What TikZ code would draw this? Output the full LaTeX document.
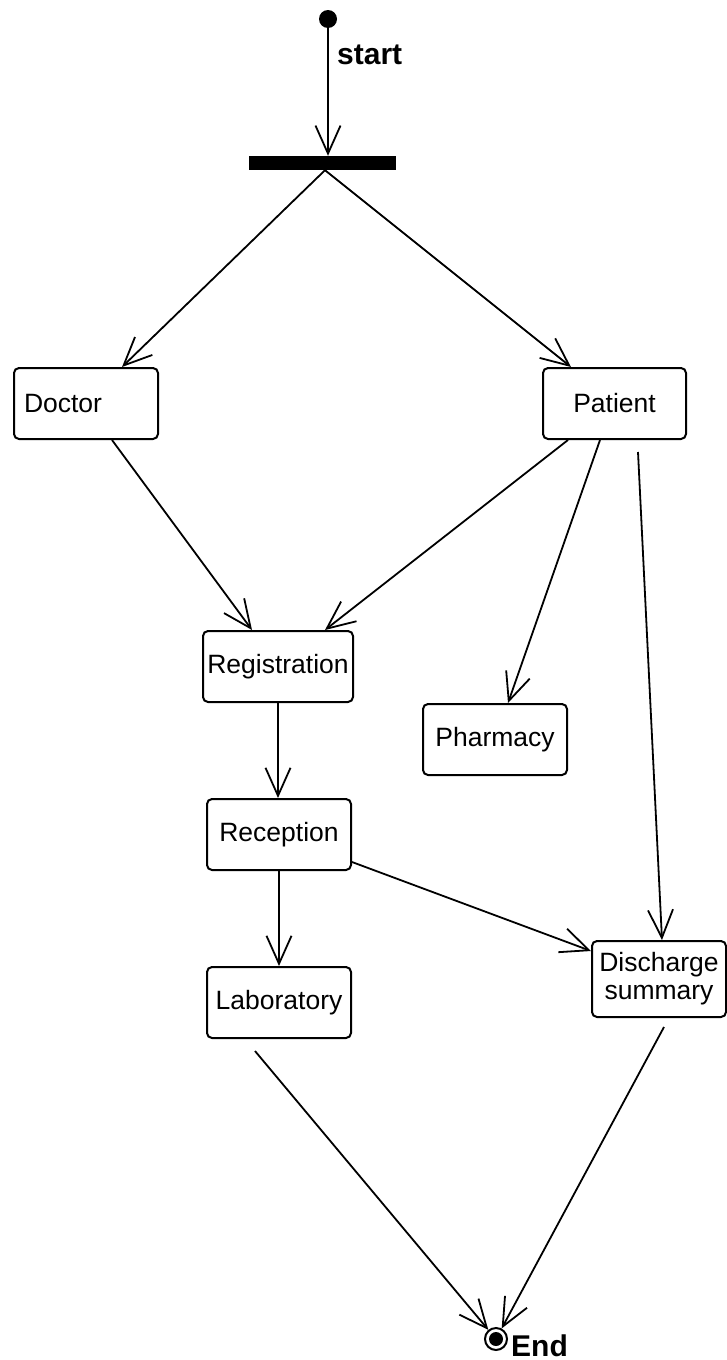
\documentclass[tikz,border=0pt]{standalone}
\usepackage{fontspec}
\setmainfont{Liberation Sans}
\usetikzlibrary{arrows.meta}
\begin{document}
\begin{tikzpicture}[x=1pt,y=-1pt,
  box/.style={draw, line width=2pt, rounded corners=5pt, minimum height=71pt,
    inner sep=0pt, align=center, font=\fontsize{26.5}{28}\selectfont},
  flow/.style={line width=1.8pt, -{Straight Barb[length=28pt,width=25pt,line width=1.8pt]}},
  lbl/.style={font=\fontsize{30}{32}\selectfont\bfseries, inner sep=0pt}]
\useasboundingbox (0,0) rectangle (727,1360);
% initial, bar
\node[circle, fill=black, minimum size=18pt, inner sep=0pt] (start) at (328,19) {};
\node[lbl, anchor=base west] (startlbl) at (337,64) {start};
\node[fill=black, minimum width=147pt, minimum height=14pt, inner sep=0pt] (bar) at (322.5,163) {};
% states
\node[box, minimum width=144pt, text width=124pt, inner xsep=10pt, align=left] (doc) at (86,403.5) {Doctor};
\node[box, minimum width=143pt] (pat) at (614.5,403.5) {Patient};
\node[box, minimum width=150pt] (reg) at (278,666.5) {Registration};
\node[box, minimum width=144pt] (pha) at (495,739.5) {Pharmacy};
\node[box, minimum width=144pt] (rec) at (279,834.5) {Reception};
\node[box, minimum width=144pt] (lab) at (279,1002.5) {Laboratory};
\node[box, minimum width=134pt, minimum height=76pt] (dis) at (659,979) {Discharge\\summary};
% final
\node[circle, draw, line width=2pt, fill=white, minimum size=22pt, inner sep=0pt] (end) at (496,1339) {};
\fill (end.center) circle (7pt);
\node[lbl, anchor=base west] (endlbl) at (511,1356) {End};
% free ends
\coordinate (p3) at (638,452);
\coordinate (l1) at (255,1051);
\coordinate (d1) at (664,1027);
% connectors
\draw[flow] (start.south) -- (start.south |- bar.north);
\draw[flow] ([xshift=2.5pt]bar.south) -- ([xshift=36pt]doc.north);
\draw[flow] ([xshift=2.5pt]bar.south) -- ([xshift=-43.5pt]pat.north);
\draw[flow] ([xshift=26pt]doc.south) -- ([xshift=-26pt]reg.north);
\draw[flow] ([xshift=-46.5pt]pat.south) -- ([xshift=47pt]reg.north);
\draw[flow] ([xshift=-14.5pt]pat.south) -- ([xshift=13pt]pha.north);
\draw[flow] (p3) -- ([xshift=3pt]dis.north);
\draw[flow] (reg.south) -- (reg.south |- rec.north);
\draw[flow] ([yshift=-27.5pt]rec.east) -- ([yshift=28pt]dis.west);
\draw[flow] (rec.south) -- (lab.north);
\draw[flow] (l1) -- (end);
\draw[flow] (d1) -- (end);
\end{tikzpicture}
\end{document}
